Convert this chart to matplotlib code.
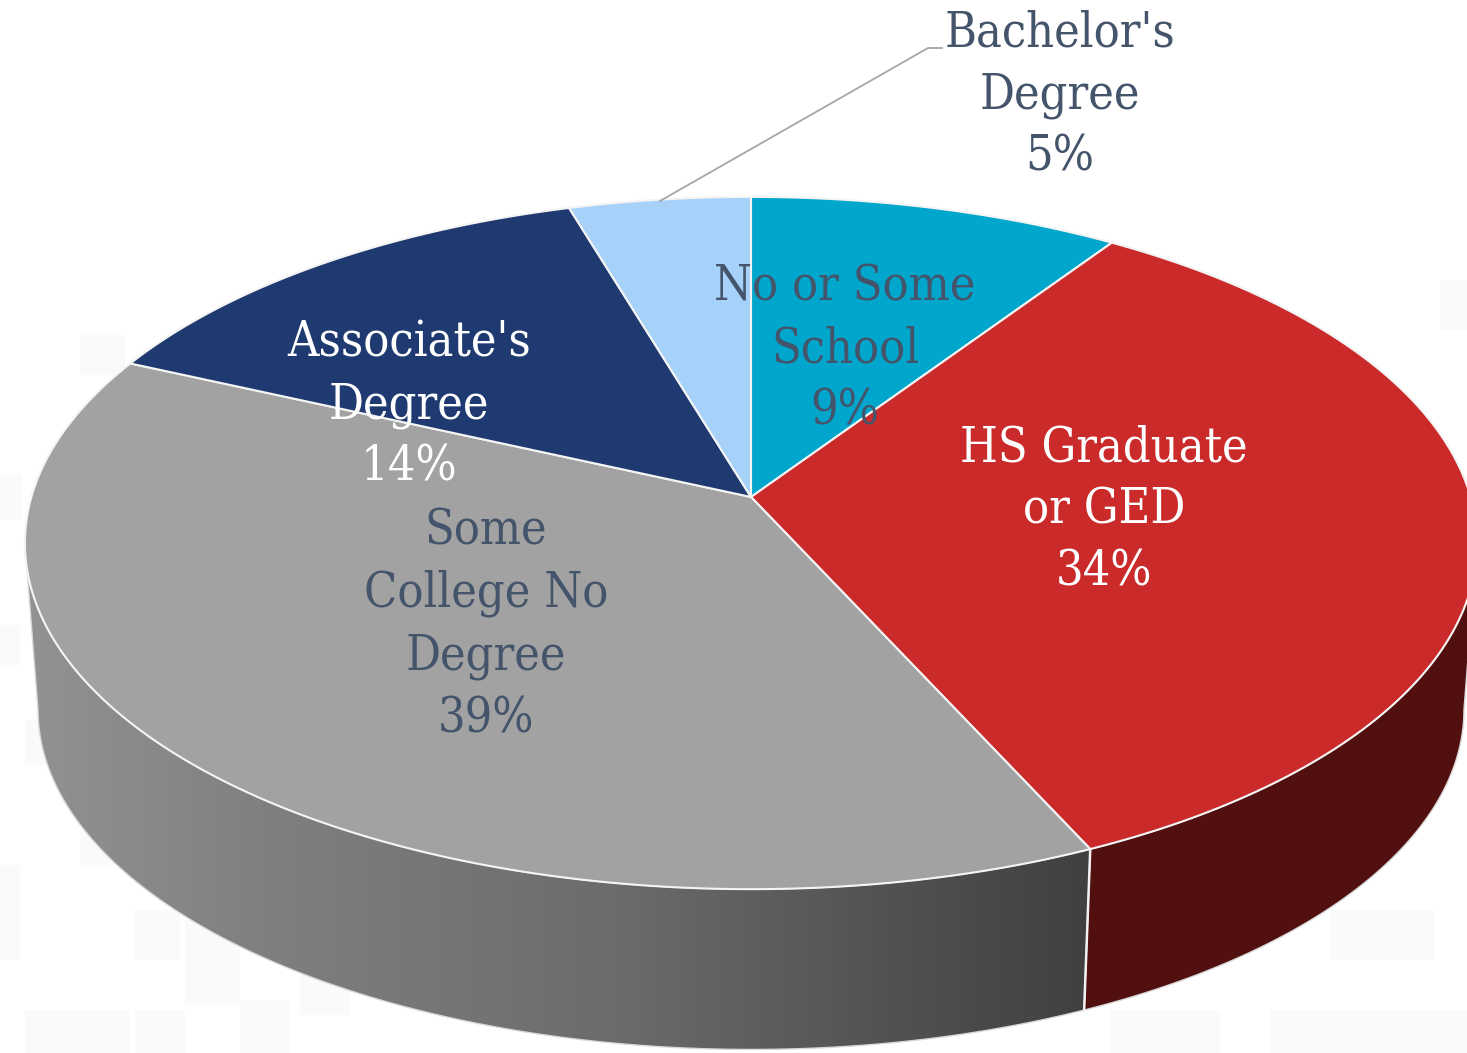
import numpy as np
import matplotlib
matplotlib.use("Agg")
import matplotlib.pyplot as plt
from matplotlib.patches import Polygon, Rectangle
from matplotlib.colors import LinearSegmentedColormap

# data
categories = ["No or Some\nSchool", "HS Graduate\nor GED", "Some\nCollege No\nDegree", "Associate's\nDegree", "Bachelor's\nDegree"]
values = [9.4, 33.8, 38.6, 13.6, 4.6]
colors = ["#00A6CC", "#CB2A2A", "#A2A2A2", "#1F3A70", "#A6D2FA"]
text_colors = ["#44546A", "#FFFFFF", "#44546A", "#FFFFFF", "#44546A"]
label_xy = [(845, 349), (1104, 510), (486, 625), (409, 405), (1060, 95)]

W, H = 1467, 1053
fig = plt.figure(figsize=(W / 100, H / 100), dpi=100)
ax = fig.add_axes([0, 0, 1, 1])
ax.set_xlim(0, W)
ax.set_ylim(H, 0)
ax.axis("off")

# faint background tiles
tiles = [(0, 475, 22, 45), (0, 625, 20, 40), (25, 720, 30, 45), (80, 830, 35, 35), (0, 865, 20, 95),
         (135, 910, 45, 50), (185, 920, 55, 85), (25, 1010, 105, 43), (135, 1010, 50, 43), (300, 975, 50, 40),
         (1330, 910, 105, 50), (1110, 1010, 110, 43), (1270, 1010, 197, 43), (1440, 280, 27, 50),
         (80, 335, 45, 40), (240, 1000, 50, 53)]
for x, y, w, h in tiles:
    ax.add_patch(Rectangle((x, y), w, h, fc="#FAFAFB", ec="none", zorder=0))

# perspective projection of the pie disc
CX, AY, A, B, K = 751.0, 497.0, 719.6, 340.0, 0.133
VY, S = 9794.0, 0.982


def top(t):
    t = np.asarray(t, dtype=float)
    w = 1 + K * np.cos(t)
    return np.column_stack((CX + A * np.sin(t) / w, AY - B * np.cos(t) / w))


def bottom(t):
    p = top(t)
    return np.column_stack((CX + S * (p[:, 0] - CX), VY + S * (p[:, 1] - VY)))


edges = np.cumsum([0] + values) / sum(values) * 2 * np.pi
t_left = 2 * np.pi - np.arccos(-K)
t_right = np.arccos(-K)
t_front = edges[2]

# side walls
ts = np.linspace(t_right, t_front, 150)
side_red = np.vstack((top(ts), bottom(ts[::-1])))
ax.add_patch(Polygon(side_red, closed=True, fc="#520F0F", ec="#D8D8D8", lw=1.0, zorder=2))

ts = np.linspace(t_front, t_left, 240)
side_grey = np.vstack((top(ts), bottom(ts[::-1])))
grey_cm = LinearSegmentedColormap.from_list("g", [(0, "#929292"), (0.22, "#808080"), (0.55, "#6C6C6C"), (0.85, "#4E4E4E"), (1, "#404040")])
outline = Polygon(side_grey, closed=True, fc="none", ec="#D8D8D8", lw=1.0, zorder=4)
ax.add_patch(outline)
clip = Polygon(side_grey, closed=True, transform=ax.transData)
im = ax.imshow(np.linspace(0, 1, 512)[None, :], extent=(25, 1092, H, 500), cmap=grey_cm, aspect="auto", zorder=3)
im.set_clip_path(clip)
ax.set_xlim(0, W)
ax.set_ylim(H, 0)

# seam between wall segments
seam = np.vstack((top([t_front]), bottom([t_front])))
ax.plot(seam[:, 0], seam[:, 1], color="#F2F2F2", lw=1.8, zorder=5)

# top face
for i, c in enumerate(colors):
    arc = top(np.linspace(edges[i], edges[i + 1], 200))
    poly = np.vstack(([[CX, AY]], arc))
    ax.add_patch(Polygon(poly, closed=True, fc=c, ec="#F4F4F4", lw=1.5, joinstyle="round", zorder=6))

# leader line
ax.plot([660, 928, 942], [201, 48, 48], color="#A6A6A6", lw=1.3, zorder=7)

# labels
for name, v, col, (x, y) in zip(categories, values, text_colors, label_xy):
    ax.text(x, y, f"{name}\n{round(v)}%", color=col, ha="center", va="center", multialignment="center",
            family="DejaVu Serif", stretch="condensed", fontsize=34.8, linespacing=1.41, zorder=8)

fig.savefig("out.png", dpi=100, facecolor="#FFFFFF")
